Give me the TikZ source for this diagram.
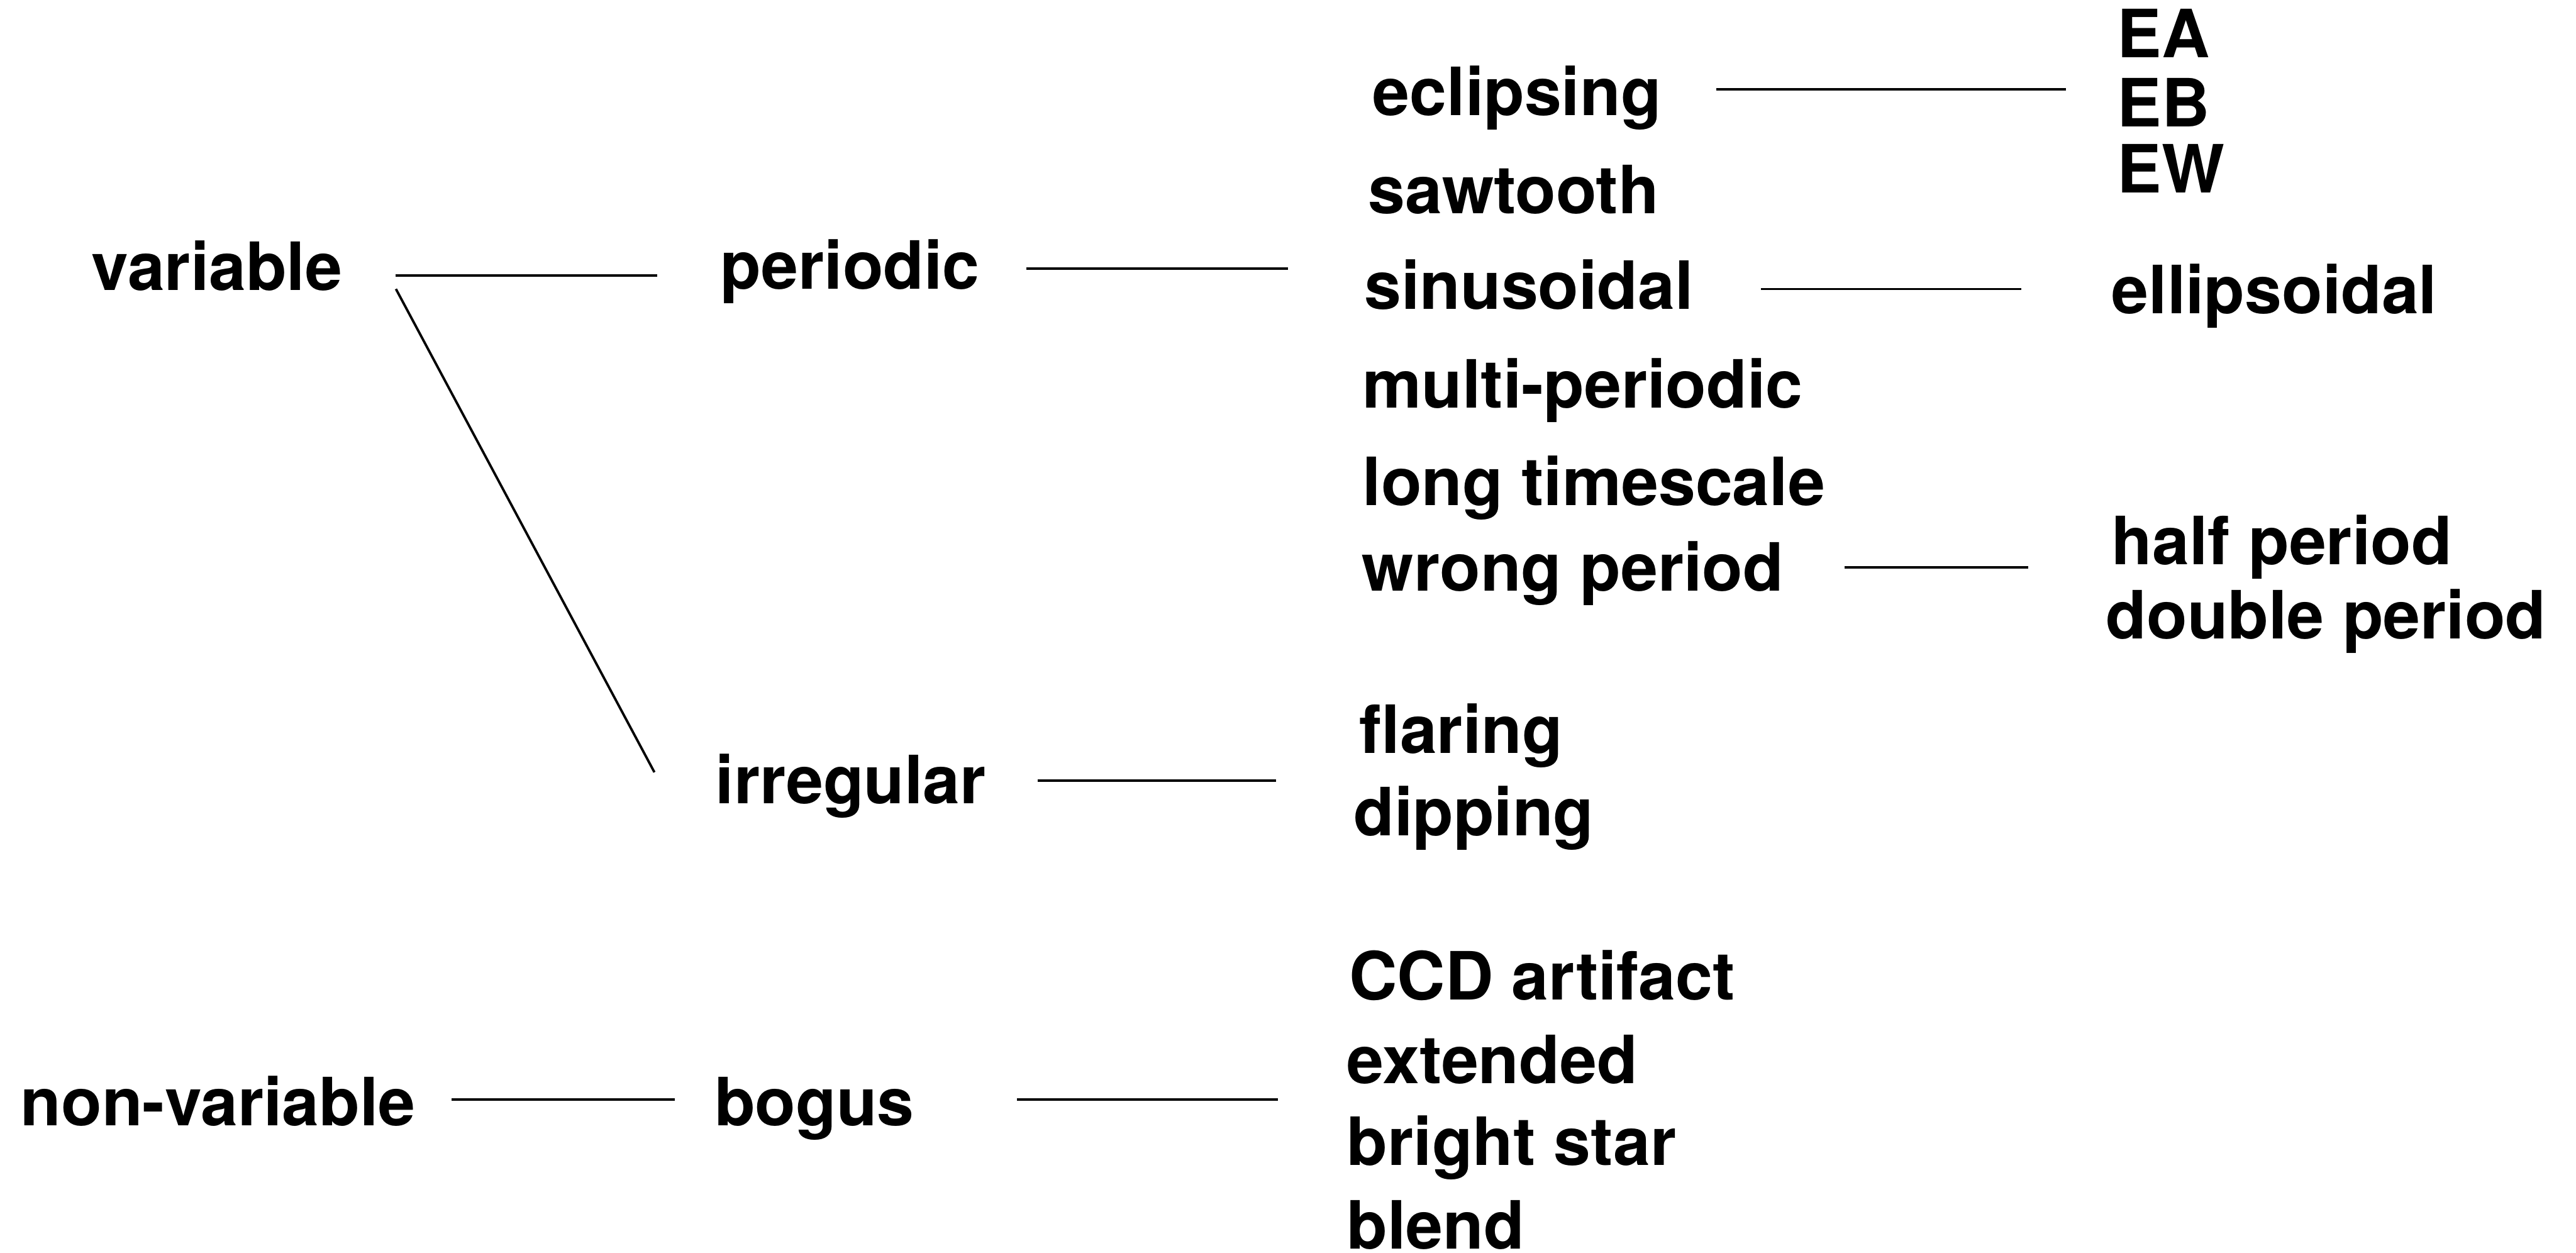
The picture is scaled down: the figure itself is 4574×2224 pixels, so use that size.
\documentclass[tikz,border=0pt]{standalone}
\usepackage{fontspec}
\setmainfont{TeX Gyre Heros}
\begin{document}
\begin{tikzpicture}[x=0.01cm,y=-0.01cm,
  lbl/.style={anchor=base west,inner sep=0pt,font=\fontsize{33.6}{40}\selectfont\bfseries},
  link/.style={line width=1.2pt}]
\useasboundingbox (0,0) rectangle (4574,2224);
% first level
\node[lbl] (variable) at (162,515) {variable};
\node[lbl] (nonvar) at (36,1998) {non-variable};
% second level
\node[lbl] (periodic) at (1279,513) {periodic};
\node[lbl] (irregular) at (1270,1427) {irregular};
\node[lbl] (bogus) at (1268,1998) {bogus};
% periodic classes
\node[lbl] (eclipsing) at (2437,205) {eclipsing};
\node[lbl] (sawtooth) at (2429,379) {sawtooth};
\node[lbl] (sinusoidal) at (2422,549) {sinusoidal};
\node[lbl] (multi) at (2419,724) {multi-periodic};
\node[lbl] (longts) at (2419,897) {long timescale};
\node[lbl] (wrong) at (2418,1049) {wrong period};
% irregular classes
\node[lbl] (flaring) at (2413,1337) {flaring};
\node[lbl] (dipping) at (2403,1483) {dipping};
% bogus classes
\node[lbl] (ccd) at (2395,1775) {CCD artifact};
\node[lbl] (extended) at (2391,1924) {extended};
\node[lbl] (bright) at (2391,2069) {bright star};
\node[lbl] (blend) at (2391,2217) {blend};
% third level
\node[lbl] (ea) at (3759,102) {EA};
\node[lbl] (eb) at (3759,225) {EB};
\node[lbl] (ew) at (3759,342) {EW};
\node[lbl] (ellipsoidal) at (3749,557) {ellipsoidal};
\node[lbl] (half) at (3749,1002) {half period};
\node[lbl] (double) at (3739,1134) {double period};
% connector ends
\coordinate (v1) at (702,489);  \coordinate (p0) at (1167,489);
\coordinate (v2) at (703,513);  \coordinate (i0) at (1162,1371);
\coordinate (p1) at (1822,477); \coordinate (pc) at (2287,477);
\coordinate (e1) at (3048,159); \coordinate (ec) at (3668,159);
\coordinate (s1) at (3127,513); \coordinate (sc) at (3589,513);
\coordinate (w1) at (3275,1007);\coordinate (wc) at (3601,1007);
\coordinate (i1) at (1843,1386);\coordinate (ic) at (2266,1386);
\coordinate (n1) at (802,1952); \coordinate (b0) at (1198,1952);
\coordinate (b1) at (1806,1952);\coordinate (bc) at (2269,1952);
% connectors
\draw[link] (v1) -- (p0);
\draw[link] (v2) -- (i0);
\draw[link] (p1) -- (pc);
\draw[link] (e1) -- (ec);
\draw[link] (s1) -- (sc);
\draw[link] (w1) -- (wc);
\draw[link] (i1) -- (ic);
\draw[link] (n1) -- (b0);
\draw[link] (b1) -- (bc);
\end{tikzpicture}
\end{document}
